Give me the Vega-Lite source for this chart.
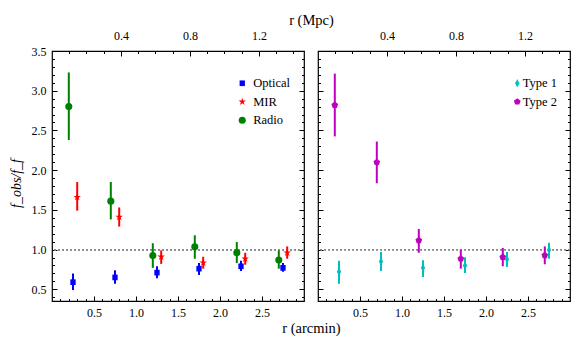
{
  "$schema": "https://vega.github.io/schema/vega-lite/v6.json",
  "padding": {"left": 8, "top": 11, "right": 5, "bottom": 5},
  "background": "white",
  "datasets": {
    "left": [
      {"series": "Optical", "r": 0.25, "f": 0.59, "lo": 0.49, "hi": 0.70},
      {"series": "Optical", "r": 0.75, "f": 0.65, "lo": 0.57, "hi": 0.74},
      {"series": "Optical", "r": 1.25, "f": 0.71, "lo": 0.64, "hi": 0.79},
      {"series": "Optical", "r": 1.75, "f": 0.76, "lo": 0.68, "hi": 0.83},
      {"series": "Optical", "r": 2.25, "f": 0.79, "lo": 0.73, "hi": 0.86},
      {"series": "Optical", "r": 2.75, "f": 0.77, "lo": 0.72, "hi": 0.83},
      {"series": "MIR", "r": 0.3, "f": 1.66, "lo": 1.49, "hi": 1.85},
      {"series": "MIR", "r": 0.8, "f": 1.41, "lo": 1.29, "hi": 1.53},
      {"series": "MIR", "r": 1.3, "f": 0.91, "lo": 0.82, "hi": 0.99},
      {"series": "MIR", "r": 1.8, "f": 0.835, "lo": 0.76, "hi": 0.91},
      {"series": "MIR", "r": 2.3, "f": 0.885, "lo": 0.81, "hi": 0.96},
      {"series": "MIR", "r": 2.8, "f": 0.96, "lo": 0.885, "hi": 1.04},
      {"series": "Radio", "r": 0.2, "f": 2.80, "lo": 2.38, "hi": 3.23},
      {"series": "Radio", "r": 0.7, "f": 1.61, "lo": 1.38, "hi": 1.85},
      {"series": "Radio", "r": 1.2, "f": 0.925, "lo": 0.77, "hi": 1.08},
      {"series": "Radio", "r": 1.7, "f": 1.035, "lo": 0.885, "hi": 1.18},
      {"series": "Radio", "r": 2.2, "f": 0.96, "lo": 0.83, "hi": 1.095},
      {"series": "Radio", "r": 2.7, "f": 0.87, "lo": 0.76, "hi": 0.99}
    ],
    "right": [
      {"series": "Type 1", "r": 0.25, "f": 0.72, "lo": 0.57, "hi": 0.86},
      {"series": "Type 1", "r": 0.75, "f": 0.85, "lo": 0.73, "hi": 0.97},
      {"series": "Type 1", "r": 1.25, "f": 0.77, "lo": 0.655, "hi": 0.865},
      {"series": "Type 1", "r": 1.75, "f": 0.80, "lo": 0.705, "hi": 0.905},
      {"series": "Type 1", "r": 2.25, "f": 0.877, "lo": 0.78, "hi": 0.97},
      {"series": "Type 1", "r": 2.75, "f": 0.995, "lo": 0.885, "hi": 1.085},
      {"series": "Type 2", "r": 0.2, "f": 2.82, "lo": 2.425, "hi": 3.215},
      {"series": "Type 2", "r": 0.7, "f": 2.10, "lo": 1.835, "hi": 2.36},
      {"series": "Type 2", "r": 1.2, "f": 1.115, "lo": 0.96, "hi": 1.26},
      {"series": "Type 2", "r": 1.7, "f": 0.885, "lo": 0.76, "hi": 1.0},
      {"series": "Type 2", "r": 2.2, "f": 0.906, "lo": 0.79, "hi": 1.02},
      {"series": "Type 2", "r": 2.7, "f": 0.927, "lo": 0.815, "hi": 1.04}
    ]
  },
  "hconcat": [
    {
      "width": 252, "height": 250,
      "data": {"name": "left"},
      "resolve": {"scale": {"x": "independent"}, "axis": {"x": "independent", "y": "independent"}},
      "layer": [
        {
          "mark": {"type": "rule", "color": "#8c8c8c", "strokeDash": [1.3, 2.7], "strokeWidth": 1.4},
          "encoding": {"y": {"datum": 1, "type": "quantitative", "scale": {"domain": [0.353, 3.5], "nice": false, "zero": false}, "axis": null}}
        },
        {
          "mark": {"type": "point", "filled": true, "size": 50, "opacity": 1, "strokeWidth": 0},
          "encoding": {
            "x": {"field": "r", "type": "quantitative", "scale": {"domain": [0, 3], "nice": false, "zero": false}, "axis": null},
            "y": {"field": "f", "type": "quantitative", "scale": {"domain": [0.353, 3.5], "nice": false, "zero": false},
              "axis": {"orient": "right", "values": [0.4,0.5,0.6,0.7,0.8,0.9,1.0,1.1,1.2,1.3,1.4,1.5,1.6,1.7,1.8,1.9,2.0,2.1,2.2,2.3,2.4,2.5,2.6,2.7,2.8,2.9,3.0,3.1,3.2,3.3,3.4,3.5],
                "tickSize": {"condition": {"test": "indexof([0.5,1,1.5,2,2.5,3,3.5], datum.value) >= 0", "value": -5}, "value": -2.5},
                "labels": false, "title": null}},
            "color": {"field": "series", "type": "nominal", "scale": {"domain": ["Optical", "MIR", "Radio"], "range": ["#0000ff", "#ff0000", "#008000"]},
              "legend": {"title": null, "orient": "none", "legendX": 184, "legendY": 26, "labelOffset": 4.7, "rowPadding": 5.5, "padding": 0}},
            "shape": {"field": "series", "type": "nominal", "scale": {"domain": ["Optical", "MIR", "Radio"], "range": [
                "M-0.75,-0.8L0.75,-0.8L0.75,0.8L-0.75,0.8Z",
                "M0,-1.1L0.247,-0.34L1.046,-0.34L0.4,0.13L0.647,0.89L0,0.42L-0.647,0.89L-0.4,0.13L-1.046,-0.34L-0.247,-0.34Z",
                "circle"]},
              "legend": {"title": null, "orient": "none", "legendX": 184, "legendY": 26, "labelOffset": 4.7, "rowPadding": 5.5, "padding": 0}}
          }
        },
        {
          "mark": {"type": "rule", "strokeWidth": 2},
          "encoding": {
            "x": {"field": "r", "type": "quantitative", "scale": {"domain": [0, 3], "nice": false, "zero": false},
              "axis": {"orient": "bottom", "values": [0.1,0.2,0.3,0.4,0.5,0.6,0.7,0.8,0.9,1.0,1.1,1.2,1.3,1.4,1.5,1.6,1.7,1.8,1.9,2.0,2.1,2.2,2.3,2.4,2.5,2.6,2.7,2.8,2.9],
                "tickSize": {"condition": {"test": "indexof([0.5,1,1.5,2,2.5], datum.value) >= 0", "value": -5}, "value": -2.5},
                "labelExpr": "indexof([0.5,1,1.5,2,2.5], datum.value) >= 0 ? format(datum.value, '.1f') : ''",
                "labelPadding": 11, "title": "r (arcmin)", "titleX": 259, "titleY": 27, "titleBaseline": "middle", "titleAlign": "center"}},
            "y": {"field": "lo", "type": "quantitative", "scale": {"domain": [0.353, 3.5], "nice": false, "zero": false},
              "axis": {"orient": "left", "values": [0.4,0.5,0.6,0.7,0.8,0.9,1.0,1.1,1.2,1.3,1.4,1.5,1.6,1.7,1.8,1.9,2.0,2.1,2.2,2.3,2.4,2.5,2.6,2.7,2.8,2.9,3.0,3.1,3.2,3.3,3.4,3.5],
                "tickSize": {"condition": {"test": "indexof([0.5,1,1.5,2,2.5,3,3.5], datum.value) >= 0", "value": -5}, "value": -2.5},
                "labelExpr": "indexof([0.5,1,1.5,2,2.5,3,3.5], datum.value) >= 0 ? format(datum.value, '.1f') : ''",
                "labelPadding": 11, "title": "f_obs/f_f", "titleFontStyle": "italic", "titleFontSize": 14, "titleX": -36, "titleY": 132, "titleBaseline": "middle", "titleAlign": "center"}},
            "y2": {"field": "hi"},
            "stroke": {"field": "series", "type": "nominal", "scale": {"domain": ["Optical", "MIR", "Radio"], "range": ["#0000ff", "#ff0000", "#008000"]}, "legend": null}
          }
        },
        {
          "data": {"values": [{}]},
          "mark": {"type": "point", "opacity": 0},
          "encoding": {
            "x": {"datum": 0, "type": "quantitative", "scale": {"domain": [0, 1.461], "nice": false, "zero": false},
              "axis": {"orient": "top", "values": [0.1,0.2,0.3,0.4,0.5,0.6,0.7,0.8,0.9,1.0,1.1,1.2,1.3,1.4],
                "tickSize": {"condition": {"test": "indexof([0.4,0.8,1.2], datum.value) >= 0", "value": -5}, "value": -2.5},
                "labelExpr": "indexof([0.4,0.8,1.2], datum.value) >= 0 ? format(datum.value, '.1f') : ''",
                "labelPadding": 13.5, "title": "r (Mpc)", "titleX": 259, "titleY": -31, "titleBaseline": "middle", "titleAlign": "center"}}
          }
        }
      ]
    },
    {
      "width": 252, "height": 250,
      "data": {"name": "right"},
      "resolve": {"scale": {"x": "independent"}, "axis": {"x": "independent", "y": "independent"}},
      "layer": [
        {
          "mark": {"type": "rule", "color": "#8c8c8c", "strokeDash": [1.3, 2.7], "strokeWidth": 1.4},
          "encoding": {"y": {"datum": 1, "type": "quantitative", "scale": {"domain": [0.353, 3.5], "nice": false, "zero": false}, "axis": null}}
        },
        {
          "mark": {"type": "point", "filled": true, "size": 50, "opacity": 1, "strokeWidth": 0},
          "encoding": {
            "x": {"field": "r", "type": "quantitative", "scale": {"domain": [0, 3], "nice": false, "zero": false}, "axis": null},
            "y": {"field": "f", "type": "quantitative", "scale": {"domain": [0.353, 3.5], "nice": false, "zero": false},
              "axis": {"orient": "right", "values": [0.4,0.5,0.6,0.7,0.8,0.9,1.0,1.1,1.2,1.3,1.4,1.5,1.6,1.7,1.8,1.9,2.0,2.1,2.2,2.3,2.4,2.5,2.6,2.7,2.8,2.9,3.0,3.1,3.2,3.3,3.4,3.5],
                "tickSize": {"condition": {"test": "indexof([0.5,1,1.5,2,2.5,3,3.5], datum.value) >= 0", "value": -5}, "value": -2.5},
                "labels": false, "title": null}},
            "color": {"field": "series", "type": "nominal", "scale": {"domain": ["Type 1", "Type 2"], "range": ["#00bfbf", "#bf00bf"]},
              "legend": {"title": null, "orient": "none", "legendX": 193, "legendY": 26, "labelOffset": -0.8, "rowPadding": 5.5, "padding": 0}},
            "shape": {"field": "series", "type": "nominal", "scale": {"domain": ["Type 1", "Type 2"], "range": [
                "M0,-1.2L0.6,0L0,1.2L-0.6,0Z",
                "M0,-1L0.951,-0.309L0.588,0.809L-0.588,0.809L-0.951,-0.309Z"]},
              "legend": {"title": null, "orient": "none", "legendX": 193, "legendY": 26, "labelOffset": -0.8, "rowPadding": 5.5, "padding": 0}}
          }
        },
        {
          "mark": {"type": "rule", "strokeWidth": 2},
          "encoding": {
            "x": {"field": "r", "type": "quantitative", "scale": {"domain": [0, 3], "nice": false, "zero": false},
              "axis": {"orient": "bottom", "values": [0.1,0.2,0.3,0.4,0.5,0.6,0.7,0.8,0.9,1.0,1.1,1.2,1.3,1.4,1.5,1.6,1.7,1.8,1.9,2.0,2.1,2.2,2.3,2.4,2.5,2.6,2.7,2.8,2.9],
                "tickSize": {"condition": {"test": "indexof([0.5,1,1.5,2,2.5], datum.value) >= 0", "value": -5}, "value": -2.5},
                "labelExpr": "indexof([0.5,1,1.5,2,2.5], datum.value) >= 0 ? format(datum.value, '.1f') : ''",
                "labelPadding": 11, "title": null}},
            "y": {"field": "lo", "type": "quantitative", "scale": {"domain": [0.353, 3.5], "nice": false, "zero": false},
              "axis": {"orient": "left", "values": [0.4,0.5,0.6,0.7,0.8,0.9,1.0,1.1,1.2,1.3,1.4,1.5,1.6,1.7,1.8,1.9,2.0,2.1,2.2,2.3,2.4,2.5,2.6,2.7,2.8,2.9,3.0,3.1,3.2,3.3,3.4,3.5],
                "tickSize": {"condition": {"test": "indexof([0.5,1,1.5,2,2.5,3,3.5], datum.value) >= 0", "value": -5}, "value": -2.5},
                "labels": false, "title": null}},
            "y2": {"field": "hi"},
            "stroke": {"field": "series", "type": "nominal", "scale": {"domain": ["Type 1", "Type 2"], "range": ["#00bfbf", "#bf00bf"]}, "legend": null}
          }
        },
        {
          "data": {"values": [{}]},
          "mark": {"type": "point", "opacity": 0},
          "encoding": {
            "x": {"datum": 0, "type": "quantitative", "scale": {"domain": [0, 1.461], "nice": false, "zero": false},
              "axis": {"orient": "top", "values": [0.1,0.2,0.3,0.4,0.5,0.6,0.7,0.8,0.9,1.0,1.1,1.2,1.3,1.4],
                "tickSize": {"condition": {"test": "indexof([0.4,0.8,1.2], datum.value) >= 0", "value": -5}, "value": -2.5},
                "labelExpr": "indexof([0.4,0.8,1.2], datum.value) >= 0 ? format(datum.value, '.1f') : ''",
                "labelPadding": 13.5, "title": null}}
          }
        }
      ]
    }
  ],
  "spacing": 14,
  "bounds": "flush",
  "resolve": {"scale": {"color": "independent", "shape": "independent", "stroke": "independent"}, "legend": {"color": "independent", "shape": "independent", "stroke": "independent"}},
  "config": {
    "font": "Liberation Serif",
    "view": {"stroke": "#000", "strokeWidth": 1.2},
    "axis": {"domain": false, "grid": false, "tickColor": "#000", "tickWidth": 1, "labelColor": "#000", "labelFont": "Liberation Serif", "labelFontSize": 12,
      "titleFont": "Liberation Serif", "titleFontSize": 14.5, "titleFontWeight": "normal", "titleColor": "#000", "labelOverlap": false, "labelFlush": false, "labelBound": false},
    "legend": {"labelFont": "Liberation Serif", "labelFontSize": 12.5, "labelColor": "#000", "symbolSize": 50, "symbolStrokeWidth": 0}
  }
}
